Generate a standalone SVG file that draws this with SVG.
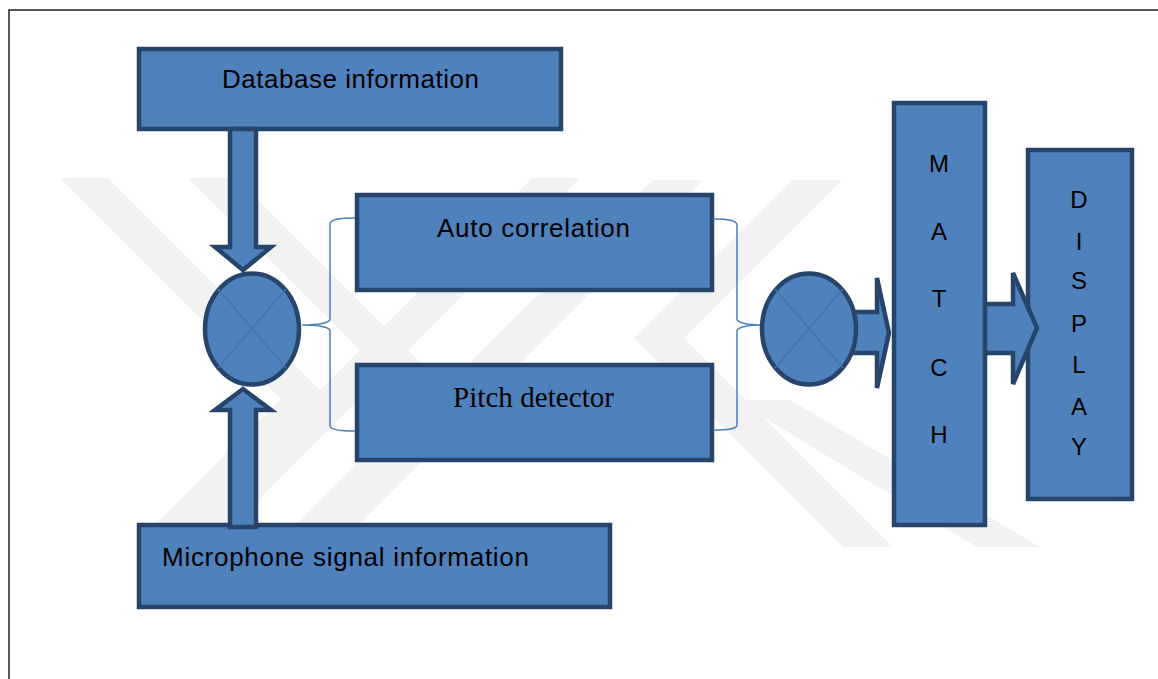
<svg xmlns="http://www.w3.org/2000/svg" width="1158" height="679" viewBox="0 0 1158 679">
<style>
.box{fill:#4f81bd;stroke:#27446a;stroke-width:4.5}
.arr{fill:#4f81bd;stroke:#27446a;stroke-width:4.5;stroke-linejoin:miter}
.xl{stroke:#4573ad;stroke-width:1.5;fill:none}
.brace{fill:none;stroke:#4a7ebb;stroke-width:1.5}
.wm{fill:#f2f2f2}
.cal{font-family:"Liberation Sans",Arial,sans-serif;font-size:26px;fill:#000}
.let{font-family:"Liberation Sans",Arial,sans-serif;font-size:24px;fill:#000;text-anchor:middle}
.tnr{font-family:"Liberation Serif","Times New Roman",serif;font-size:29px;fill:#000}
</style>
<rect x="0" y="0" width="1158" height="679" fill="#ffffff"/>
<g id="watermark">
<polygon class="wm" points="60,178 108,178 329,399 202,526 154,526 281,399"/>
<polygon class="wm" points="188,178 236,178 463,405 342,526 294,526 415,405"/>
<polygon class="wm" points="532,178 580,178 234,524 186,524"/>
<polygon class="wm" points="653,180 703,180 357,526 307,526"/>
<polygon class="wm" points="792,180 842,180 684,338 893,547 843,547 634,338"/>
<polygon class="wm" points="735,400 790,400 1040,547 977,547"/>
</g>
<rect x="9" y="10" width="1160" height="680" fill="none" stroke="#000" stroke-width="1.3"/>
<g id="db">
<rect class="box" x="139" y="49" width="422" height="80"/>
<text class="cal" x="222" y="88" textLength="257">Database information</text>
</g>
<g id="auto">
<rect class="box" x="357" y="195" width="355" height="95"/>
<text class="cal" x="437" y="237" textLength="193">Auto correlation</text>
</g>
<g id="pitch">
<rect class="box" x="357" y="365" width="355" height="95"/>
<text class="tnr" x="453" y="407" textLength="161">Pitch detector</text>
</g>
<g id="mic">
<rect class="box" x="139" y="525" width="471" height="82"/>
<text class="cal" x="162" y="566" textLength="367">Microphone signal information</text>
</g>
<g id="match">
<rect class="box" x="894" y="103" width="91" height="422"/>
<text class="let" x="939" y="172">M</text>
<text class="let" x="939" y="240">A</text>
<text class="let" x="939" y="307">T</text>
<text class="let" x="939" y="376">C</text>
<text class="let" x="939" y="443">H</text>
</g>
<g id="display">
<rect class="box" x="1028" y="150" width="104" height="349"/>
<text class="let" x="1079" y="208">D</text>
<text class="let" x="1079" y="250">I</text>
<text class="let" x="1079" y="289">S</text>
<text class="let" x="1079" y="332">P</text>
<text class="let" x="1079" y="373">L</text>
<text class="let" x="1079" y="415">A</text>
<text class="let" x="1079" y="455">Y</text>
</g>
<g id="connectors">
<path class="arr" d="M230,129 L256,129 L256,247 L271,247 L243,270 L215,247 L230,247 Z"/>
<path class="arr" d="M230,527 L230,410 L215,410 L243,389 L271,410 L256,410 L256,527 Z"/>
<path class="arr" d="M852,312 L877,312 L877,278 L889,333 L877,388 L877,353 L852,353 Z"/>
<path class="arr" d="M985,304 L1013,304 L1013,273 L1037,328 L1013,384 L1013,353 L985,353 Z"/>
<path class="brace" d="M355,218 C340,218 330,219 330,224 L330,319 C330,323 318,325 302,325 C318,325 330,327 330,331 L330,426 C330,430 340,431 355,431"/>
<path class="brace" d="M713,219 C728,219 737,220 737,225 L737,319 C737,323 749,325 762,325 C749,325 737,327 737,331 L737,425 C737,429 728,430 713,430"/>
</g>
<g id="sum1">
<ellipse class="box" cx="252" cy="329" rx="47" ry="55.5" stroke-width="5"/>
<path class="xl" d="M218,289 L286,368 M286,289 L218,368"/>
</g>
<g id="sum2">
<ellipse class="box" cx="809" cy="329" rx="47" ry="55.5" stroke-width="5"/>
<path class="xl" d="M775,289 L843,368 M843,289 L775,368"/>
</g>
</svg>
